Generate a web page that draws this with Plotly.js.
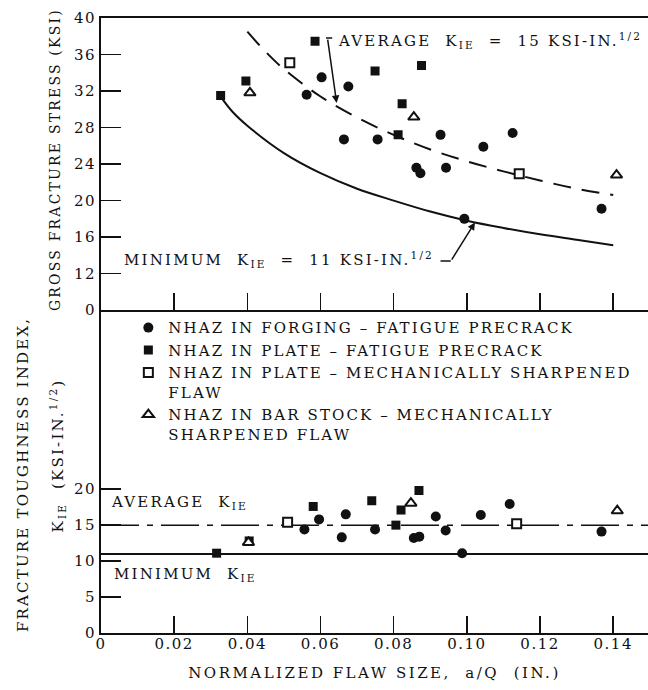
<!DOCTYPE html>
<html>
<head>
<meta charset="utf-8">
<script src="https://cdn.plot.ly/plotly-3.0.1.min.js"></script>
<style>
  html, body { margin: 0; padding: 0; background: #ffffff; }
  #chart { width: 648px; height: 690px; }
  text { letter-spacing: 1.5px; }
  text.legendtext { letter-spacing: 2.1px; }
  text.annotation-text { letter-spacing: 2.2px; }
  text.xtitle { letter-spacing: 2.5px; }
</style>
</head>
<body>
<div id="chart"></div>
<script>
// ---------- DATA ----------
// Upper panel: gross fracture stress (ksi) vs normalized flaw size a/Q (in.)
var forgingX   = [0.0562, 0.0603, 0.0676, 0.0664, 0.0756, 0.0928, 0.1125, 0.1045, 0.0862, 0.0873, 0.0943, 0.1368, 0.0993];
var forgingS   = [31.6, 33.5, 32.5, 26.7, 26.7, 27.2, 27.4, 25.9, 23.6, 23.0, 23.6, 19.1, 18.0];
var plateFX    = [0.0327, 0.0396, 0.0585, 0.0749, 0.0823, 0.0812, 0.0876];
var plateFS    = [31.5, 33.1, 37.45, 34.2, 30.6, 27.2, 34.8];
var plateMX    = [0.0516, 0.1143];
var plateMS    = [35.1, 22.95];
var barX       = [0.0407, 0.0855, 0.1409];
var barS       = [31.8, 29.15, 22.8];

// Curves drawn in the upper panel
var avgCurveX  = [0.040, 0.045, 0.050, 0.060, 0.070, 0.080, 0.090, 0.100, 0.110, 0.120, 0.130, 0.140];
var avgCurveS  = [38.5, 36.3, 34.4, 31.4, 29.1, 27.2, 25.6, 24.3, 23.2, 22.2, 21.3, 20.6];
var minCurveX  = [0.0325, 0.036, 0.040, 0.050, 0.060, 0.070, 0.080, 0.090, 0.100, 0.110, 0.120, 0.130, 0.140];
var minCurveS  = [31.5, 29.7, 28.2, 25.2, 23.0, 21.3, 20.0, 18.8, 17.8, 17.0, 16.3, 15.7, 15.1];

// Lower panel: fracture toughness index K_IE (ksi-in^1/2)
var forgingKX  = [0.0556, 0.0596, 0.0669, 0.0658, 0.0749, 0.0915, 0.0942, 0.0855, 0.0870, 0.1038, 0.1117, 0.1368, 0.0987];
var forgingK   = [14.4, 15.8, 16.5, 13.3, 14.4, 16.2, 14.25, 13.2, 13.4, 16.4, 17.95, 14.1, 11.1];
var plateFKX   = [0.0316, 0.0405, 0.0580, 0.0740, 0.0806, 0.0820, 0.0869];
var plateFK    = [11.1, 12.8, 17.6, 18.4, 15.0, 17.1, 19.8];
var plateMKX   = [0.0510, 0.1136];
var plateMK    = [15.4, 15.2];
var barKX      = [0.0403, 0.0847, 0.1411];
var barK       = [12.6, 18.05, 17.0];

// Reference levels in the lower panel
var levelX     = [0, 0.1495];
var avgLevel   = [15, 15];
var minLevel   = [11, 11];

// Tick labels
var xTickVals  = [0, 0.02, 0.04, 0.06, 0.08, 0.10, 0.12, 0.14];
var xTickText  = ['0', '0.02', '0.04', '0.06', '0.08', '0.10', '0.12', '0.14'];
var sTickVals  = [8, 12, 16, 20, 24, 28, 32, 36, 40];
var sTickText  = ['0', '12', '16', '20', '24', '28', '32', '36', '40'];
var kTickVals  = [0, 5, 10, 15, 20];

var seriesNames = [
  'NHAZ IN FORGING \u2013 FATIGUE PRECRACK',
  'NHAZ IN PLATE \u2013 FATIGUE PRECRACK',
  'NHAZ IN PLATE \u2013 MECHANICALLY SHARPENED<br>FLAW',
  'NHAZ IN BAR STOCK \u2013 MECHANICALLY<br>SHARPENED FLAW'
];

// ---------- STYLE ----------
var FONT = 'DejaVu Serif, Liberation Serif, serif';
var INK = '#111111';
var mCircle   = {symbol: 'circle', size: 10, color: INK};
var mSquare   = {symbol: 'square', size: 9, color: INK};
var mSquareO  = {symbol: 'square', size: 9, color: '#ffffff', line: {color: INK, width: 2}};
var mTriangle = {symbol: 'triangle-up', size: 10, color: '#ffffff', line: {color: INK, width: 2}};

function pts(x, y, m, name, xa, ya, legend) {
  return {type: 'scatter', mode: 'markers', x: x, y: y, marker: m, name: name,
          xaxis: xa, yaxis: ya, showlegend: legend, hoverinfo: 'skip'};
}

var traces = [
  // upper panel curves
  {type: 'scatter', mode: 'lines', x: avgCurveX, y: avgCurveS, xaxis: 'x2', yaxis: 'y2',
   line: {color: INK, width: 2, dash: '18px,11px', shape: 'spline'}, showlegend: false, hoverinfo: 'skip'},
  {type: 'scatter', mode: 'lines', x: minCurveX, y: minCurveS, xaxis: 'x2', yaxis: 'y2',
   line: {color: INK, width: 2, shape: 'spline'}, showlegend: false, hoverinfo: 'skip'},
  // lower panel levels
  {type: 'scatter', mode: 'lines', x: levelX, y: avgLevel, xaxis: 'x', yaxis: 'y',
   line: {color: INK, width: 1.5, dash: '38px,8px,6px,8px'}, showlegend: false, hoverinfo: 'skip'},
  {type: 'scatter', mode: 'lines', x: levelX, y: minLevel, xaxis: 'x', yaxis: 'y',
   line: {color: INK, width: 2}, showlegend: false, hoverinfo: 'skip'},
  // upper panel points
  pts(forgingX, forgingS, mCircle, seriesNames[0], 'x2', 'y2', false),
  pts(plateFX, plateFS, mSquare, seriesNames[1], 'x2', 'y2', false),
  pts(plateMX, plateMS, mSquareO, seriesNames[2], 'x2', 'y2', false),
  pts(barX, barS, mTriangle, seriesNames[3], 'x2', 'y2', false),
  // lower panel points (carry the legend)
  pts(forgingKX, forgingK, mCircle, seriesNames[0], 'x', 'y', true),
  pts(plateFKX, plateFK, mSquare, seriesNames[1], 'x', 'y', true),
  pts(plateMKX, plateMK, mSquareO, seriesNames[2], 'x', 'y', true),
  pts(barKX, barK, mTriangle, seriesNames[3], 'x', 'y', true)
];

var axisCommon = {
  showgrid: false, zeroline: false, showline: true, linecolor: INK, linewidth: 2,
  ticks: 'inside', tickcolor: INK, tickwidth: 1.5,
  tickfont: {family: FONT, size: 15, color: INK}, fixedrange: true
};

function ax(extra) { return Object.assign({}, axisCommon, extra); }

var annFont = {family: FONT, size: 15, color: INK};

var layout = {
  width: 648, height: 690,
  margin: {l: 101, r: 0, t: 18, b: 57},
  paper_bgcolor: '#ffffff', plot_bgcolor: '#ffffff',
  font: {family: FONT, size: 15, color: INK},
  xaxis: ax({domain: [0, 1], anchor: 'y', range: [0, 0.1495], tickmode: 'array',
             tickvals: xTickVals, ticktext: xTickText, ticklen: 17, ticklabelstandoff: -4,
             title: {text: 'NORMALIZED FLAW SIZE,  a/Q  (IN.)', font: {family: FONT, size: 15, color: INK}, standoff: 15}}),
  yaxis: ax({domain: [0, 0.525], anchor: 'x', range: [0, 44.9], tickmode: 'array',
             tickvals: kTickVals, ticklen: 20}),
  xaxis2: ax({domain: [0, 1], anchor: 'y2', range: [0, 0.1495], tickmode: 'array',
              tickvals: xTickVals.slice(1), showticklabels: false, ticklen: 17, mirror: true}),
  yaxis2: ax({domain: [0.525, 1], anchor: 'x2', range: [8, 40], tickmode: 'array',
              tickvals: sTickVals, ticktext: sTickText, ticklen: 20}),
  showlegend: true,
  legend: {x: 0.05, y: 0.523, xanchor: 'left', yanchor: 'top', bgcolor: 'rgba(0,0,0,0)',
           font: {family: FONT, size: 15, color: INK}, tracegroupgap: 0, valign: 'top'},
  annotations: [
    {xref: 'x2', yref: 'y2', x: 0.0642, y: 37.5, xanchor: 'left', yanchor: 'middle', showarrow: false,
     text: 'AVERAGE  K<sub>IE</sub>  =  15 KSI-IN.<sup>1/2</sup>', font: annFont},
    {xref: 'x2', yref: 'y2', x: 0.0644, y: 30.7, ax: 0.0619, ay: 37.8, axref: 'x2', ayref: 'y2',
     text: '', showarrow: true, arrowhead: 2, arrowsize: 1, arrowwidth: 1.5, arrowcolor: INK},
    {xref: 'x2', yref: 'y2', x: 0.0058, y: 13.6, xanchor: 'left', yanchor: 'middle', showarrow: false,
     text: 'MINIMUM  K<sub>IE</sub>  =  11 KSI-IN.<sup>1/2</sup>', font: annFont},
    {xref: 'x2', yref: 'y2', x: 0.1022, y: 17.6, ax: 0.0956, ay: 13.37, axref: 'x2', ayref: 'y2',
     text: '', showarrow: true, arrowhead: 2, arrowsize: 1, arrowwidth: 1.5, arrowcolor: INK},
    {xref: 'x', yref: 'y', x: 0.0022, y: 18.2, xanchor: 'left', yanchor: 'middle', showarrow: false,
     text: 'AVERAGE  K<sub>IE</sub>', font: annFont},
    {xref: 'x', yref: 'y', x: 0.003, y: 8.2, xanchor: 'left', yanchor: 'middle', showarrow: false,
     text: 'MINIMUM  K<sub>IE</sub>', font: annFont},
    {xref: 'paper', yref: 'paper', x: -0.084, y: 0.769, xanchor: 'center', yanchor: 'middle', showarrow: false,
     textangle: -90, text: 'GROSS FRACTURE STRESS (KSI)', font: {family: FONT, size: 14, color: INK}},
    {xref: 'paper', yref: 'paper', x: -0.1426, y: 0.2585, xanchor: 'center', yanchor: 'middle', showarrow: false,
     textangle: -90, text: 'FRACTURE TOUGHNESS INDEX,', font: annFont},
    {xref: 'paper', yref: 'paper', x: -0.080, y: 0.289, xanchor: 'center', yanchor: 'middle', showarrow: false,
     textangle: -90, text: 'K<sub>IE</sub>  (KSI-IN.<sup>1/2</sup>)', font: annFont}
  ],
  shapes: [
    {type: 'line', xref: 'x2', yref: 'y2', x0: 0.0615, x1: 0.0632, y0: 37.8, y1: 37.8, line: {color: INK, width: 1.5}},
    {type: 'line', xref: 'x2', yref: 'y2', x0: 0.0928, x1: 0.0956, y0: 13.37, y1: 13.37, line: {color: INK, width: 1.5}}
  ]
};

Plotly.newPlot('chart', traces, layout, {displayModeBar: false, staticPlot: true});
</script>
</body>
</html>
